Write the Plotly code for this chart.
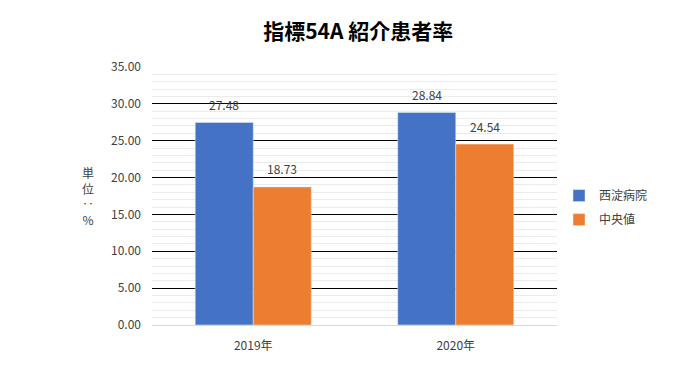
import plotly.graph_objects as go

categories = ["2019年", "2020年"]
series_names = ["西淀病院", "中央値"]
hospital_values = [27.48, 28.84]
median_values = [18.73, 24.54]
colors = ["#4472C4", "#ED7D31"]
title_text = "指標54A 紹介患者率"
ytick_vals = [0, 5, 10, 15, 20, 25, 30, 35]

font_family = "Noto Sans CJK JP, Noto Sans, sans-serif"

fig = go.Figure()
for name, vals, col in zip(series_names, [hospital_values, median_values], colors):
    fig.add_trace(go.Bar(
        x=categories, y=vals, name=name, marker_color=col, legendgroup=name,
    ))

# data labels as annotations, placed via axis coordinates
for vals, shift in [(hospital_values, -29), (median_values, 29)]:
    for c, v in zip(categories, vals):
        fig.add_annotation(
            x=c, y=v, xref="x", yref="y", text=f"{v:.2f}", showarrow=False,
            xshift=shift, yshift=18, yanchor="middle", xanchor="center",
            font=dict(size=12, color="#404040", family=font_family),
        )

fig.update_layout(
    width=692, height=362,
    margin=dict(l=144, r=143, t=59, b=45),
    paper_bgcolor="white", plot_bgcolor="white",
    barmode="group", bargap=0.427, bargroupgap=0,
    title=dict(text=f"<b>{title_text}</b>", x=0.506, xanchor="center", y=0.935, yanchor="middle",
               font=dict(size=21, color="#000000", family=font_family)),
    font=dict(family=font_family, size=12, color="#404040"),
    legend=dict(x=1.005, y=0.455, xanchor="left", yanchor="middle",
                font=dict(size=12, color="#404040", family=font_family),
                itemwidth=30, tracegroupgap=5),
    showlegend=True,
)
fig.update_yaxes(
    range=[0, 35], tickvals=ytick_vals, ticktext=[f"{v:.2f}" for v in ytick_vals],
    showgrid=True, gridcolor="#000000", gridwidth=1,
    minor=dict(dtick=1, showgrid=True, gridcolor="#EBEBEB", gridwidth=1),
    zeroline=False, showline=False, ticks="", ticklabelstandoff=10,
    tickfont=dict(size=12, color="#404040"),
)
fig.update_xaxes(
    showline=True, linecolor="#D9D9D9", linewidth=1, ticks="",
    ticklabelstandoff=10,
    tickfont=dict(size=12, color="#404040"),
)
fig.add_annotation(
    text="単<br>位<br>‥<br>%", xref="paper", yref="paper",
    x=-0.158, y=0.5, xanchor="center", yanchor="middle", showarrow=False,
    font=dict(size=12, color="#404040", family=font_family),
)
fig.write_html("out.html")
